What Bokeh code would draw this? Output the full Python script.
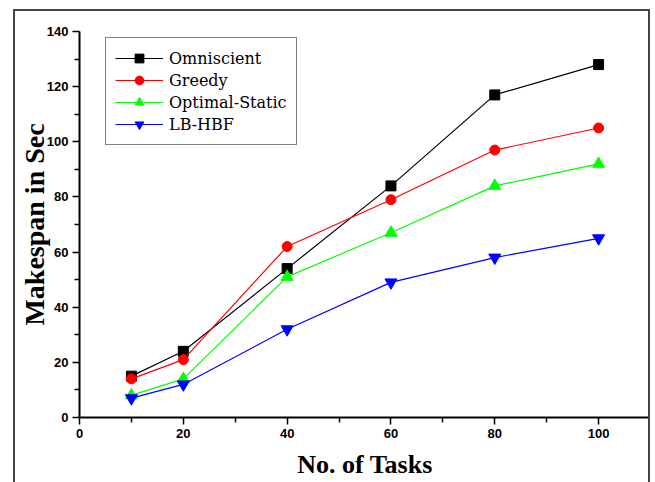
from bokeh.plotting import figure
from bokeh.models import Legend, LegendItem, FixedTicker, Range1d
from bokeh.embed import file_html
from bokeh.resources import INLINE

tasks = [10, 20, 40, 60, 80, 100]
omniscient = [15, 24, 54, 84, 117, 128]
greedy = [14, 21, 62, 79, 97, 105]
optimal_static = [8, 14, 51, 67, 84, 92]
lb_hbf = [7, 12, 32, 49, 58, 65]

x_ticks = [0, 20, 40, 60, 80, 100]
y_ticks = [0, 20, 40, 60, 80, 100, 120, 140]

p = figure(width=637, height=473, output_backend="svg", toolbar_location=None,
           x_range=Range1d(0, 110), y_range=Range1d(0, 140),
           min_border_left=63, min_border_right=2, min_border_top=20, min_border_bottom=67,
           styles={"margin-left": "13px", "margin-top": "9px",
                   "border-left": "2px solid #444", "border-top": "2px solid #444",
                   "border-right": "2px solid #444"})
p.outline_line_color = None
p.xgrid.visible = False
p.ygrid.visible = False
p.background_fill_color = "white"
p.border_fill_color = "white"

for ax in (p.xaxis[0], p.yaxis[0]):
    ax.axis_line_width = 2
    ax.axis_line_color = "black"
    ax.major_tick_line_color = "black"
    ax.minor_tick_line_color = "black"
    ax.major_tick_line_width = 1.5
    ax.minor_tick_line_width = 1.5
    ax.major_tick_in = 0
    ax.major_tick_out = 7
    ax.minor_tick_in = 0
    ax.minor_tick_out = 5
    ax.major_label_text_font = "Liberation Sans"
    ax.major_label_text_font_style = "bold"
    ax.major_label_text_font_size = "13px"
    ax.major_label_text_color = "black"
    ax.axis_label_text_font = "Liberation Serif"
    ax.axis_label_text_font_style = "bold"
    ax.axis_label_text_color = "black"

p.xaxis[0].ticker = FixedTicker(ticks=x_ticks, minor_ticks=[10, 30, 50, 70, 90, 110])
p.yaxis[0].ticker = FixedTicker(ticks=y_ticks, minor_ticks=[10, 30, 50, 70, 90, 110, 130])
p.xaxis[0].axis_label = "No. of Tasks"
p.yaxis[0].axis_label = "Makespan in Sec"
p.xaxis[0].axis_label_text_font_size = "26px"
p.yaxis[0].axis_label_text_font_size = "28px"
p.xaxis[0].axis_label_standoff = 9
p.yaxis[0].axis_label_standoff = -6
p.xaxis[0].major_label_standoff = 4
p.yaxis[0].major_label_standoff = 4

series = [
    ("Omniscient", omniscient, "black", "square", 10),
    ("Greedy", greedy, "red", "circle", 10),
    ("Optimal-Static", optimal_static, "#00ff00", "triangle", 12),
    ("LB-HBF", lb_hbf, "blue", "inverted_triangle", 12),
]

items = []
for name, vals, color, marker, size in series:
    l = p.line(tasks, vals, line_color=color, line_width=1.2)
    s = p.scatter(tasks, vals, marker=marker, size=size, fill_color=color, line_color=color)
    items.append(LegendItem(label=name, renderers=[l, s]))

legend = Legend(items=items, location=(26, 272))
legend.border_line_color = "black"
legend.border_line_width = 1.5
legend.padding = 9
legend.margin = 0
legend.spacing = 0
legend.glyph_width = 48
legend.glyph_height = 22
legend.label_height = 22
legend.label_standoff = 6
legend.label_text_font = "DejaVu Serif"
legend.label_text_font_size = "16px"
legend.label_text_color = "black"
legend.background_fill_alpha = 1
p.add_layout(legend, "center")

open("out.html", "w").write(file_html(p, INLINE))
